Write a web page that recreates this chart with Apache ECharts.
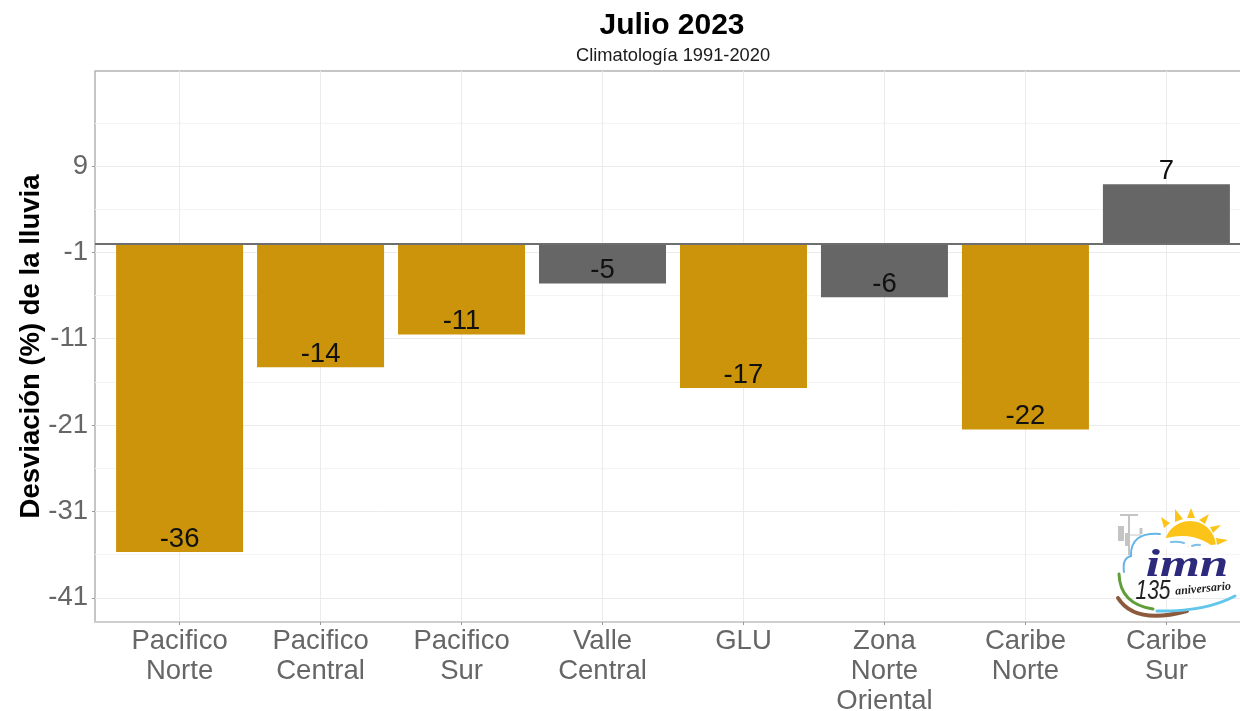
<!DOCTYPE html>
<html lang="es">
  <head>
    <meta charset="utf-8" />
    <title>Julio 2023</title>
    <style>
      * {
        margin: 0;
        padding: 0;
      }

      #chart-container {
        position: relative;
        width: 1240px;
        height: 711px;
        overflow: hidden;
      }
    </style>
  </head>

  <body>
    <div id="chart-container"></div>
    <script src="https://cdn.jsdelivr.net/npm/echarts@6/dist/echarts.min.js"></script>
    <script>
      var regiones = [
        "Pacifico\nNorte",
        "Pacifico\nCentral",
        "Pacifico\nSur",
        "Valle\nCentral",
        "GLU",
        "Zona\nNorte\nOriental",
        "Caribe\nNorte",
        "Caribe\nSur",
      ];
      var desviacion = [-35.7, -14.3, -10.5, -4.6, -16.7, -6.2, -21.5, 6.9];
      var etiquetas = ["-36", "-14", "-11", "-5", "-17", "-6", "-22", "7"];
      // 1 = deficit marcado, 0 = cerca de lo normal
      var grupo = [1, 1, 1, 0, 1, 0, 1, 0];
      var posiciones = [1, 2, 3, 4, 5, 6, 7, 8];
      var ticksY = [-41, -31, -21, -11, -1, 9];
      var ticksMenoresY = [-36, -26, -16, -6, 4, 14];

      var ORO = "#cb940a";
      var GRIS = "#666666";
      var FUENTE = '"Liberation Sans", Arial, sans-serif';

      var myChart = echarts.init(document.getElementById("chart-container"), null, {
        renderer: "canvas",
      });

      function rayo(puntos) {
        return {
          type: "polygon",
          shape: { points: puntos },
          style: { fill: "#fcc419" },
          z: 100,
        };
      }

      function curva(x1, y1, cx, cy, x2, y2, color, ancho) {
        return {
          type: "bezierCurve",
          shape: { x1: x1, y1: y1, cpx1: cx, cpy1: cy, x2: x2, y2: y2 },
          style: { stroke: color, lineWidth: ancho, fill: null, lineCap: "round" },
          z: 100,
        };
      }

      function palo(x1, y1, x2, y2, ancho) {
        return {
          type: "line",
          shape: { x1: x1, y1: y1, x2: x2, y2: y2 },
          style: { stroke: "#c4c4c4", lineWidth: ancho },
          z: 100,
        };
      }

      // logo del IMN, esquina inferior derecha
      var logo = [
        palo(1129, 515, 1129, 555, 2),
        palo(1120, 515, 1138, 515, 2),
        palo(1121, 526, 1121, 541, 6),
        palo(1127, 533, 1127, 546, 4),
        palo(1141, 528, 1141, 534, 3),
        palo(1127, 535, 1141, 535, 1),
        {
          type: "sector",
          shape: { cx: 1190, cy: 547, r0: 0, r: 26, startAngle: -2.95, endAngle: -0.1 },
          style: { fill: "#fcc419" },
          z: 100,
        },
        curva(1140, 555, 1190, 525, 1220, 560, "#ffffff", 10),
        rayo([[1161, 517], [1170, 523], [1164, 528]]),
        rayo([[1175, 509], [1183, 519], [1175, 522]]),
        rayo([[1191, 508], [1195, 518], [1187, 518]]),
        rayo([[1209, 514], [1205, 524], [1199, 520]]),
        rayo([[1221, 525], [1213, 533], [1210, 527]]),
        rayo([[1228, 540], [1217, 545], [1216, 538]]),
        curva(1124, 572, 1122, 558, 1131, 556, "#64b5e6", 2),
        curva(1131, 556, 1130, 532, 1160, 534, "#64b5e6", 2),
        curva(1171, 542, 1178, 541, 1184, 543, "#7cc0e8", 2),
        curva(1192, 546, 1197, 544, 1200, 545, "#7cc0e8", 2),
        curva(1119, 574, 1120, 604, 1153, 609, "#5f9e3a", 3),
        curva(1118, 598, 1135, 625, 1187, 611, "#8c5a3c", 4),
        curva(1157, 611, 1205, 612, 1235, 596, "#62c6ec", 3),
        {
          type: "text",
          x: 1187,
          y: 566,
          scaleX: 1.35,
          style: {
            text: "imn",
            fill: "#2d2a7e",
            font: 'italic bold 38px "Liberation Serif", serif',
            align: "center",
            verticalAlign: "middle",
          },
          z: 101,
        },
        {
          type: "text",
          x: 1153,
          y: 591,
          scaleX: 0.78,
          style: {
            text: "135",
            fill: "#222222",
            font: 'italic 27px "Liberation Sans", sans-serif',
            align: "center",
            verticalAlign: "middle",
          },
          z: 101,
        },
        {
          type: "text",
          x: 1203,
          y: 589,
          rotation: 0.1,
          style: {
            text: "aniversario",
            fill: "#222222",
            font: 'italic bold 12px "Liberation Serif", serif',
            align: "center",
            verticalAlign: "middle",
          },
          z: 101,
        },
      ];

      var option = {
        animation: false,
        backgroundColor: "#ffffff",
        textStyle: { fontFamily: FUENTE },
        title: [
          {
            text: "Julio 2023",
            left: 667,
            top: 6,
            textAlign: "center",
            textStyle: { fontFamily: FUENTE, fontSize: 30, fontWeight: "bold", color: "#000000" },
          },
          {
            text: "Climatología 1991-2020",
            left: 668,
            top: 42,
            textAlign: "center",
            textStyle: { fontFamily: FUENTE, fontSize: 18.3, fontWeight: "normal", color: "#1a1a1a" },
          },
        ],
        grid: {
          left: 95,
          top: 71,
          width: 1156,
          height: 551,
          outerBoundsMode: "none",
          show: true,
          borderColor: "#b3b3b3",
          borderWidth: 1.5,
          backgroundColor: "#ffffff",
        },
        xAxis: {
          type: "value",
          min: 0.4,
          max: 8.6,
          axisLine: { show: true, onZero: false, lineStyle: { color: "#cfcfcf", width: 2 } },
          axisTick: { show: true, length: 3, customValues: posiciones, lineStyle: { color: "#999999" } },
          axisLabel: {
            customValues: posiciones,
            formatter: function (v) {
              return regiones[v - 1];
            },
            fontFamily: FUENTE,
            fontSize: 27.5,
            lineHeight: 30,
            color: "#666666",
            margin: 4,
            verticalAlign: "top",
            showMinLabel: true,
            showMaxLabel: true,
          },
          splitLine: { show: true, lineStyle: { color: "#ebebeb", width: 1 } },
        },
        yAxis: [
          {
            type: "value",
            min: -43.8,
            max: 20,
            name: "Desviación (%) de la lluvia",
            nameLocation: "middle",
            nameRotate: 90,
            nameGap: 50,
            nameMoveOverlap: false,
            nameTextStyle: { fontFamily: FUENTE, fontSize: 27.5, fontWeight: "bold", color: "#000000" },
            axisLine: { show: false, onZero: false },
            axisTick: { show: true, length: 3, customValues: ticksY, lineStyle: { color: "#999999" } },
            axisLabel: {
              customValues: ticksY,
              fontFamily: FUENTE,
              fontSize: 27.5,
              color: "#666666",
              margin: 7,
              padding: [3, 0, 0, 0],
            },
            splitLine: { show: true, lineStyle: { color: "#ebebeb", width: 1 } },
          },
          {
            // solo para las lineas menores de la cuadricula
            type: "value",
            min: -43.8,
            max: 20,
            position: "left",
            axisLine: { show: false },
            axisLabel: { show: false },
            axisTick: { show: false, customValues: ticksMenoresY },
            splitLine: { show: true, lineStyle: { color: "#f4f4f4", width: 1 } },
          },
        ],
        series: [
          {
            type: "bar",
            barWidth: 127,
            data: desviacion.map(function (v, i) {
              return {
                value: [posiciones[i], v],
                itemStyle: { color: grupo[i] === 1 ? ORO : GRIS },
                label: {
                  show: true,
                  position: v < 0 ? "insideBottom" : "top",
                  distance: -1,
                  formatter: etiquetas[i],
                  fontFamily: FUENTE,
                  fontSize: 27.5,
                  color: "#111111",
                },
              };
            }),
            markLine: {
              silent: true,
              symbol: "none",
              label: { show: false },
              lineStyle: { color: "#6e6e6e", width: 2, type: "solid" },
              data: [{ yAxis: 0 }],
            },
          },
        ],
        graphic: logo,
      };

      myChart.setOption(option);
      window.addEventListener("resize", myChart.resize);
    </script>
  </body>
</html>
